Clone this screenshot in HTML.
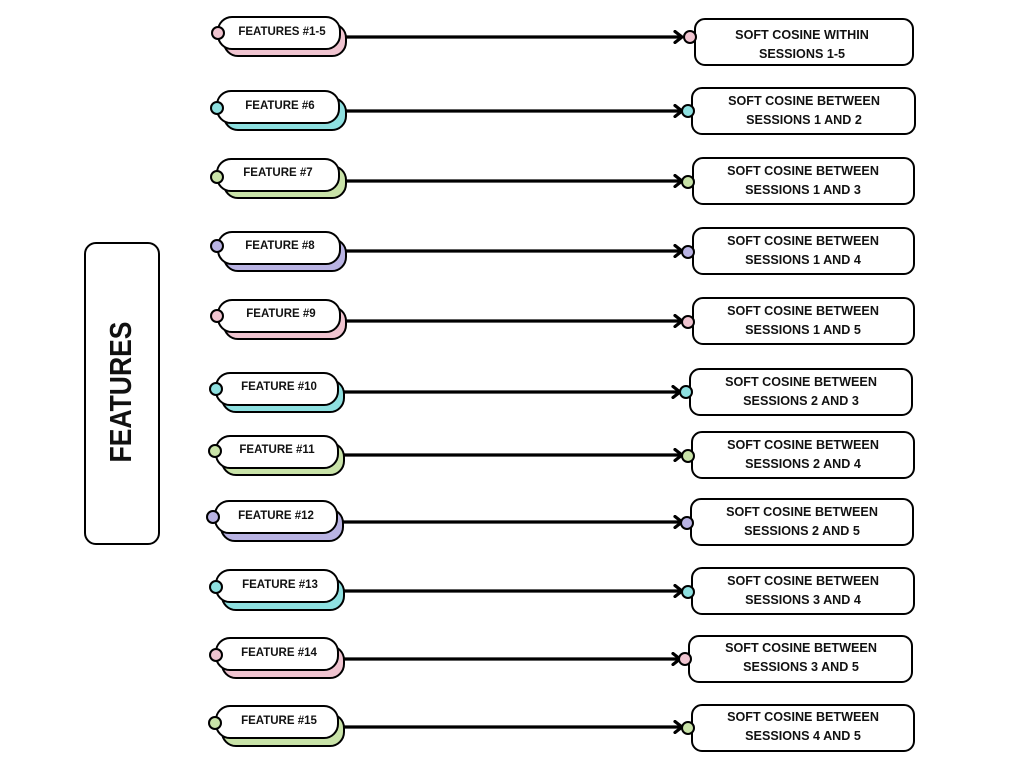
<!DOCTYPE html>
<html><head><meta charset="utf-8"><style>
body{margin:0;background:#fff;}
svg{display:block;}
text{font-family:"Liberation Sans",sans-serif;font-weight:bold;fill:#111;}
.l{font-size:11.5px;}
.r{font-size:12.6px;}
</style></head><body>
<svg width="1024" height="768" viewBox="0 0 1024 768" xmlns="http://www.w3.org/2000/svg">
<defs>
<marker id="ah" markerWidth="12" markerHeight="14" refX="9" refY="7" orient="auto" markerUnits="userSpaceOnUse">
<path d="M2,1.5 L9,7 L2,12.5" fill="none" stroke="#000" stroke-width="3.2" stroke-linecap="round" stroke-linejoin="round"/>
</marker>
</defs>
<rect x="85" y="243" width="74" height="301" rx="11" fill="#fff" stroke="#000" stroke-width="2"/>
<text x="0" y="0" transform="translate(131,392) rotate(-90)" text-anchor="middle" font-size="31" textLength="141" lengthAdjust="spacingAndGlyphs">FEATURES</text>

<g stroke="#000" stroke-width="2">
<g><rect x="224" y="24" width="122" height="32" rx="14" fill="#f0c4d0"/><rect x="218" y="17" width="122" height="32" rx="14" fill="#fff"/><circle cx="218" cy="33" r="6" fill="#f0c4d0"/><line x1="346" y1="37" x2="682" y2="37" stroke-width="3.2" marker-end="url(#ah)"/><rect x="695" y="19" width="218" height="46" rx="10" fill="#fff"/><circle cx="690" cy="37" r="6" fill="#f0c4d0"/></g>
<g><rect x="224" y="98" width="122" height="32" rx="14" fill="#8ee0e0"/><rect x="217" y="91" width="122" height="32" rx="14" fill="#fff"/><circle cx="217" cy="108" r="6" fill="#8ee0e0"/><line x1="346" y1="111" x2="682" y2="111" stroke-width="3.2" marker-end="url(#ah)"/><rect x="692" y="88" width="223" height="46" rx="10" fill="#fff"/><circle cx="688" cy="111" r="6" fill="#8ee0e0"/></g>
<g><rect x="224" y="166" width="122" height="32" rx="14" fill="#c9e3a8"/><rect x="217" y="159" width="122" height="32" rx="14" fill="#fff"/><circle cx="217" cy="177" r="6" fill="#c9e3a8"/><line x1="346" y1="181" x2="682" y2="181" stroke-width="3.2" marker-end="url(#ah)"/><rect x="693" y="158" width="221" height="46" rx="10" fill="#fff"/><circle cx="688" cy="182" r="6" fill="#c9e3a8"/></g>
<g><rect x="224" y="239" width="122" height="32" rx="14" fill="#b9b3e3"/><rect x="218" y="232" width="122" height="32" rx="14" fill="#fff"/><circle cx="217" cy="246" r="6" fill="#b9b3e3"/><line x1="346" y1="251" x2="682" y2="251" stroke-width="3.2" marker-end="url(#ah)"/><rect x="693" y="228" width="221" height="46" rx="10" fill="#fff"/><circle cx="688" cy="252" r="6" fill="#b9b3e3"/></g>
<g><rect x="224" y="307" width="122" height="32" rx="14" fill="#f0c4d0"/><rect x="218" y="300" width="122" height="32" rx="14" fill="#fff"/><circle cx="217" cy="316" r="6" fill="#f0c4d0"/><line x1="346" y1="321" x2="682" y2="321" stroke-width="3.2" marker-end="url(#ah)"/><rect x="693" y="298" width="221" height="46" rx="10" fill="#fff"/><circle cx="688" cy="322" r="6" fill="#f0c4d0"/></g>
<g><rect x="222" y="380" width="122" height="32" rx="14" fill="#8ee0e0"/><rect x="216" y="373" width="122" height="32" rx="14" fill="#fff"/><circle cx="216" cy="389" r="6" fill="#8ee0e0"/><line x1="344" y1="392" x2="680" y2="392" stroke-width="3.2" marker-end="url(#ah)"/><rect x="690" y="369" width="222" height="46" rx="10" fill="#fff"/><circle cx="686" cy="392" r="6" fill="#8ee0e0"/></g>
<g><rect x="222" y="443" width="122" height="32" rx="14" fill="#c9e3a8"/><rect x="216" y="436" width="122" height="32" rx="14" fill="#fff"/><circle cx="215" cy="451" r="6" fill="#c9e3a8"/><line x1="344" y1="455" x2="682" y2="455" stroke-width="3.2" marker-end="url(#ah)"/><rect x="692" y="432" width="222" height="46" rx="10" fill="#fff"/><circle cx="688" cy="456" r="6" fill="#c9e3a8"/></g>
<g><rect x="221" y="509" width="122" height="32" rx="14" fill="#b9b3e3"/><rect x="215" y="501" width="122" height="32" rx="14" fill="#fff"/><circle cx="213" cy="517" r="6" fill="#b9b3e3"/><line x1="343" y1="522" x2="682" y2="522" stroke-width="3.2" marker-end="url(#ah)"/><rect x="691" y="499" width="222" height="46" rx="10" fill="#fff"/><circle cx="687" cy="523" r="6" fill="#b9b3e3"/></g>
<g><rect x="222" y="578" width="122" height="32" rx="14" fill="#8ee0e0"/><rect x="216" y="570" width="122" height="32" rx="14" fill="#fff"/><circle cx="216" cy="587" r="6" fill="#8ee0e0"/><line x1="344" y1="591" x2="682" y2="591" stroke-width="3.2" marker-end="url(#ah)"/><rect x="692" y="568" width="222" height="46" rx="10" fill="#fff"/><circle cx="688" cy="592" r="6" fill="#8ee0e0"/></g>
<g><rect x="222" y="646" width="122" height="32" rx="14" fill="#f0c4d0"/><rect x="216" y="638" width="122" height="32" rx="14" fill="#fff"/><circle cx="216" cy="655" r="6" fill="#f0c4d0"/><line x1="344" y1="659" x2="680" y2="659" stroke-width="3.2" marker-end="url(#ah)"/><rect x="689" y="636" width="223" height="46" rx="10" fill="#fff"/><circle cx="685" cy="659" r="6" fill="#f0c4d0"/></g>
<g><rect x="222" y="714" width="122" height="32" rx="14" fill="#c9e3a8"/><rect x="216" y="706" width="122" height="32" rx="14" fill="#fff"/><circle cx="215" cy="723" r="6" fill="#c9e3a8"/><line x1="344" y1="727" x2="682" y2="727" stroke-width="3.2" marker-end="url(#ah)"/><rect x="692" y="705" width="222" height="46" rx="10" fill="#fff"/><circle cx="688" cy="728" r="6" fill="#c9e3a8"/></g>
</g>

<g class="l" text-anchor="middle">
<text x="282" y="35">FEATURES #1-5</text>
<text x="280" y="109">FEATURE #6</text>
<text x="278" y="176">FEATURE #7</text>
<text x="280" y="249">FEATURE #8</text>
<text x="281" y="317">FEATURE #9</text>
<text x="279" y="390">FEATURE #10</text>
<text x="277" y="453">FEATURE #11</text>
<text x="276" y="519">FEATURE #12</text>
<text x="280" y="588">FEATURE #13</text>
<text x="279" y="656">FEATURE #14</text>
<text x="279" y="724">FEATURE #15</text>
</g>
<g class="r" text-anchor="middle">
<text x="802" y="39">SOFT COSINE WITHIN</text><text x="802" y="58">SESSIONS 1-5</text>
<text x="804" y="105">SOFT COSINE BETWEEN</text><text x="804" y="124">SESSIONS 1 AND 2</text>
<text x="803" y="175">SOFT COSINE BETWEEN</text><text x="803" y="194">SESSIONS 1 AND 3</text>
<text x="803" y="245">SOFT COSINE BETWEEN</text><text x="803" y="264">SESSIONS 1 AND 4</text>
<text x="803" y="315">SOFT COSINE BETWEEN</text><text x="803" y="334">SESSIONS 1 AND 5</text>
<text x="801" y="386">SOFT COSINE BETWEEN</text><text x="801" y="405">SESSIONS 2 AND 3</text>
<text x="803" y="449">SOFT COSINE BETWEEN</text><text x="803" y="468">SESSIONS 2 AND 4</text>
<text x="802" y="516">SOFT COSINE BETWEEN</text><text x="802" y="535">SESSIONS 2 AND 5</text>
<text x="803" y="585">SOFT COSINE BETWEEN</text><text x="803" y="604">SESSIONS 3 AND 4</text>
<text x="801" y="652">SOFT COSINE BETWEEN</text><text x="801" y="671">SESSIONS 3 AND 5</text>
<text x="803" y="721">SOFT COSINE BETWEEN</text><text x="803" y="740">SESSIONS 4 AND 5</text>
</g>
</svg>
</body></html>
